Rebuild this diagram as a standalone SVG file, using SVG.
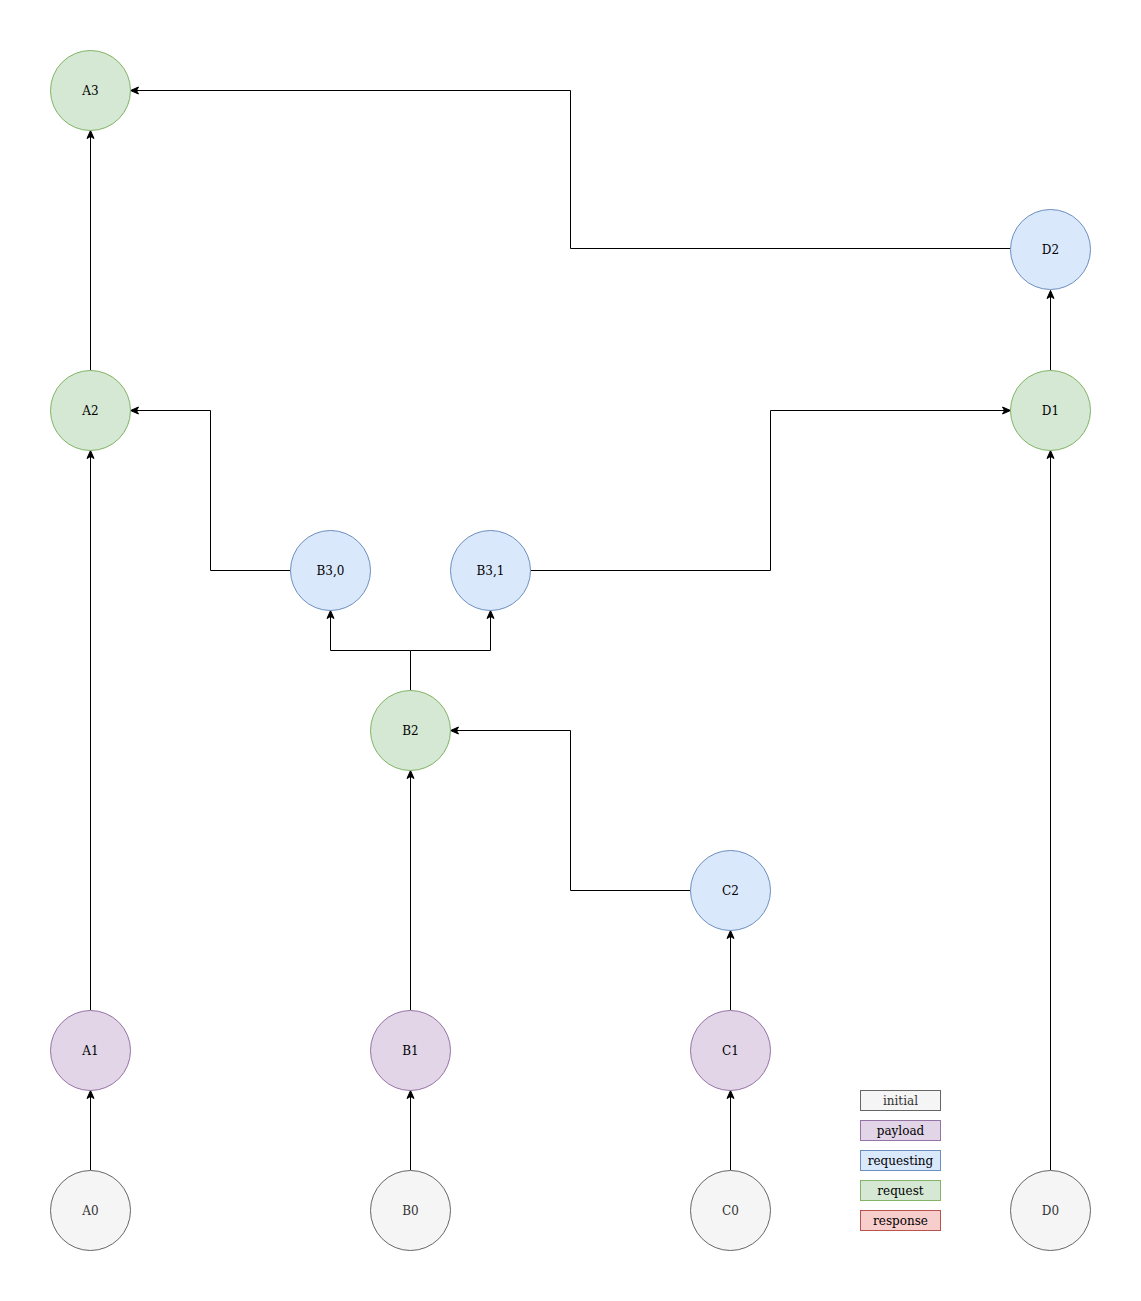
<svg xmlns="http://www.w3.org/2000/svg" width="1141" height="1301" viewBox="0 0 1141 1301">
<defs>
<marker id="arr" markerUnits="userSpaceOnUse" markerWidth="10" markerHeight="10" viewBox="0 0 10 10" refX="9" refY="5" orient="auto">
<path d="M1,1.5 L9,5 L1,8.5 L3,5 Z" fill="#000" stroke="#000" stroke-width="1"/>
</marker>
</defs>
<style>
text{font-family:"DejaVu Serif",serif;font-size:12px;text-anchor:middle;dominant-baseline:central;fill:#000}
.init circle,.init rect{fill:#f5f5f5;stroke:#666666}
.init text{fill:#333333}
.pay circle,.pay rect{fill:#e1d5e7;stroke:#9673a6}
.reqg circle,.reqg rect{fill:#dae8fc;stroke:#6c8ebf}
.req circle,.req rect{fill:#d5e8d4;stroke:#82b366}
.resp rect{fill:#f8cecc;stroke:#b85450}
.edges path{fill:none;stroke:#000;stroke-width:1}
</style>
<rect width="1141" height="1301" fill="#fff"/>
<g transform="translate(0.5,0.5)">
<g class="edges">
<path d="M90,1170 L90,1090" marker-end="url(#arr)"/>
<path d="M90,1010 L90,450" marker-end="url(#arr)"/>
<path d="M90,370 L90,130" marker-end="url(#arr)"/>
<path d="M1010,248 L570,248 L570,90 L130,90" marker-end="url(#arr)"/>
<path d="M290,570 L210,570 L210,410 L130,410" marker-end="url(#arr)"/>
<path d="M530,570 L770,570 L770,410 L1010,410" marker-end="url(#arr)"/>
<path d="M1050,370 L1050,290" marker-end="url(#arr)"/>
<path d="M1050,1170 L1050,450" marker-end="url(#arr)"/>
<path d="M410,690 L410,650 L330,650 L330,610" marker-end="url(#arr)"/>
<path d="M410,650 L490,650 L490,610" marker-end="url(#arr)"/>
<path d="M410,1010 L410,770" marker-end="url(#arr)"/>
<path d="M410,1170 L410,1090" marker-end="url(#arr)"/>
<path d="M690,890 L570,890 L570,730 L450,730" marker-end="url(#arr)"/>
<path d="M730,1010 L730,930" marker-end="url(#arr)"/>
<path d="M730,1170 L730,1090" marker-end="url(#arr)"/>
</g>
<g id="A0" class="init"><circle cx="90" cy="1210" r="40"/><text x="90" y="1210">A0</text></g>
<g id="B0" class="init"><circle cx="410" cy="1210" r="40"/><text x="410" y="1210">B0</text></g>
<g id="C0" class="init"><circle cx="730" cy="1210" r="40"/><text x="730" y="1210">C0</text></g>
<g id="D0" class="init"><circle cx="1050" cy="1210" r="40"/><text x="1050" y="1210">D0</text></g>
<g id="A1" class="pay"><circle cx="90" cy="1050" r="40"/><text x="90" y="1050">A1</text></g>
<g id="B1" class="pay"><circle cx="410" cy="1050" r="40"/><text x="410" y="1050">B1</text></g>
<g id="C1" class="pay"><circle cx="730" cy="1050" r="40"/><text x="730" y="1050">C1</text></g>
<g id="C2" class="reqg"><circle cx="730" cy="890" r="40"/><text x="730" y="890">C2</text></g>
<g id="B2" class="req"><circle cx="410" cy="730" r="40"/><text x="410" y="730">B2</text></g>
<g id="B30" class="reqg"><circle cx="330" cy="570" r="40"/><text x="330" y="570">B3,0</text></g>
<g id="B31" class="reqg"><circle cx="490" cy="570" r="40"/><text x="490" y="570">B3,1</text></g>
<g id="A2" class="req"><circle cx="90" cy="410" r="40"/><text x="90" y="410">A2</text></g>
<g id="D1" class="req"><circle cx="1050" cy="410" r="40"/><text x="1050" y="410">D1</text></g>
<g id="D2" class="reqg"><circle cx="1050" cy="249" r="40"/><text x="1050" y="249">D2</text></g>
<g id="A3" class="req"><circle cx="90" cy="90" r="40"/><text x="90" y="90">A3</text></g>
<g id="legend-initial" class="init"><rect x="860" y="1090" width="80" height="20"/><text x="900" y="1100">initial</text></g>
<g id="legend-payload" class="pay"><rect x="860" y="1120" width="80" height="20"/><text x="900" y="1130">payload</text></g>
<g id="legend-requesting" class="reqg"><rect x="860" y="1150" width="80" height="20"/><text x="900" y="1160">requesting</text></g>
<g id="legend-request" class="req"><rect x="860" y="1180" width="80" height="20"/><text x="900" y="1190">request</text></g>
<g id="legend-response" class="resp"><rect x="860" y="1210" width="80" height="20"/><text x="900" y="1220">response</text></g>
</g>
</svg>
